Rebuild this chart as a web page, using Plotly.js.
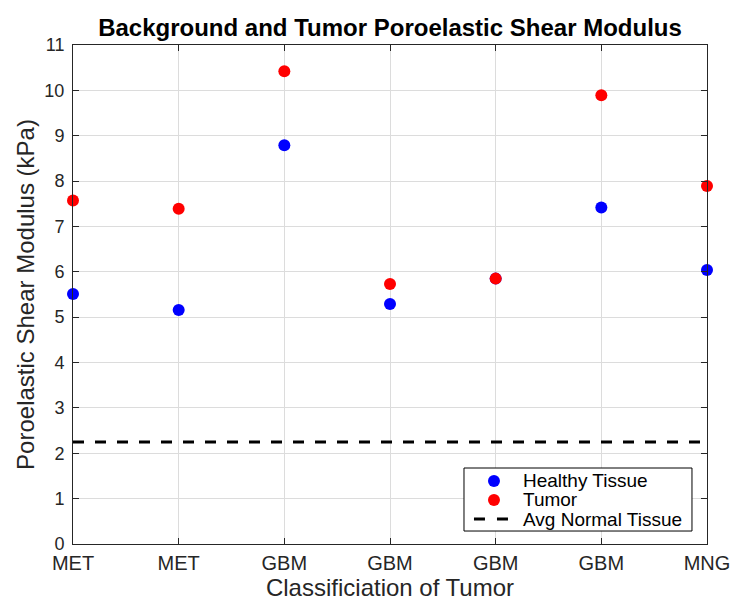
<!DOCTYPE html>
<html>
<head>
<meta charset="utf-8">
<script src="https://cdn.plot.ly/plotly-3.0.1.min.js"></script>
<style>html,body{margin:0;padding:0;background:#fff;}#chart{width:752px;height:614px;}</style>
</head>
<body>
<div id="chart"></div>
<script>
const categories = ["MET", "MET", "GBM", "GBM", "GBM", "GBM", "MNG"];
const positions = [1, 2, 3, 4, 5, 6, 7];
const healthy = [5.51, 5.16, 8.79, 5.29, 5.85, 7.42, 6.04];
const tumor = [7.57, 7.39, 10.42, 5.73, 5.85, 9.89, 7.89];
const avgNormal = 2.25;
const yTicks = [0, 1, 2, 3, 4, 5, 6, 7, 8, 9, 10, 11];
const seriesNames = ["Healthy Tissue", "Tumor", "Avg Normal Tissue"];
const seriesColors = ["#0000ff", "#ff0000", "#000000"];

const font = "Liberation Sans, Arial, Helvetica, sans-serif";
const axisColor = "#262626";

const traces = [
  {
    x: positions, y: healthy, type: "scatter", mode: "markers", name: seriesNames[0],
    marker: {color: seriesColors[0], size: 12}, cliponaxis: false
  },
  {
    x: positions, y: tumor, type: "scatter", mode: "markers", name: seriesNames[1],
    marker: {color: seriesColors[1], size: 12}, cliponaxis: false
  },
  {
    x: [positions[0], positions[positions.length - 1]], y: [avgNormal, avgNormal],
    type: "scatter", mode: "lines", name: seriesNames[2],
    line: {color: seriesColors[2], width: 3, dash: "11px,11px"}
  }
];

// Compact legend box (drawn in paper coordinates, like MATLAB's tight legend)
const legBox = {x0: 0.6167, x1: 0.9763, y0: 0.026, y1: 0.1523};
const legRowsY = [0.1263, 0.0882, 0.0501];
const legSymX = 0.664;
const legTextX = 0.7066;

const shapes = [
  {type: "rect", xref: "paper", yref: "paper", x0: legBox.x0, x1: legBox.x1, y0: legBox.y0, y1: legBox.y1,
   line: {color: "#000000", width: 1}, fillcolor: "#ffffff", layer: "above"},
  {type: "circle", xref: "paper", yref: "paper", xsizemode: "pixel", ysizemode: "pixel",
   xanchor: legSymX, yanchor: legRowsY[0], x0: -6, x1: 6, y0: -6, y1: 6,
   fillcolor: seriesColors[0], line: {width: 0}, layer: "above"},
  {type: "circle", xref: "paper", yref: "paper", xsizemode: "pixel", ysizemode: "pixel",
   xanchor: legSymX, yanchor: legRowsY[1], x0: -6, x1: 6, y0: -6, y1: 6,
   fillcolor: seriesColors[1], line: {width: 0}, layer: "above"},
  {type: "line", xref: "paper", yref: "paper", xsizemode: "pixel",
   xanchor: legSymX, x0: -20, x1: 14, y0: legRowsY[2], y1: legRowsY[2],
   line: {color: seriesColors[2], width: 3, dash: "11px,12px"}, layer: "above"}
];

const annotations = seriesNames.map((name, i) => ({
  text: name, xref: "paper", yref: "paper", x: legTextX, y: legRowsY[i],
  xanchor: "left", yanchor: "middle", showarrow: false,
  font: {family: font, size: 19, color: "#000000"}
}));

const layout = {
  width: 752, height: 614,
  margin: {l: 73, r: 45, t: 45, b: 70},
  paper_bgcolor: "#ffffff", plot_bgcolor: "#ffffff",
  font: {family: font, color: axisColor, size: 19},
  title: {
    text: "<b>Background and Tumor Poroelastic Shear Modulus</b>",
    font: {family: font, size: 24, color: "#000000"},
    x: 0.5, xanchor: "center", xref: "paper", y: 0.955, yanchor: "middle"
  },
  xaxis: {
    range: [1, 7], tickvals: positions, ticktext: categories,
    showgrid: true, gridcolor: "#dcdcdc", gridwidth: 1,
    zeroline: false, showline: true, linecolor: axisColor, linewidth: 1, mirror: "ticks",
    ticks: "inside", ticklen: 6, tickcolor: axisColor,
    ticklabelstandoff: 1,
    tickfont: {family: font, size: 20, color: axisColor},
    title: {text: "Classificiation of Tumor", font: {family: font, size: 24, color: axisColor}, standoff: 0}
  },
  yaxis: {
    range: [0, 11], tickvals: yTicks,
    showgrid: true, gridcolor: "#dcdcdc", gridwidth: 1,
    zeroline: false, showline: true, linecolor: axisColor, linewidth: 1, mirror: "ticks",
    ticks: "inside", ticklen: 6, tickcolor: axisColor,
    ticklabelstandoff: 4,
    tickfont: {family: font, size: 18, color: axisColor},
    title: {text: "Poroelastic Shear Modulus (kPa)", font: {family: font, size: 24, color: axisColor}, standoff: 2}
  },
  showlegend: false,
  shapes: shapes,
  annotations: annotations
};

Plotly.newPlot("chart", traces, layout, {displayModeBar: false, staticPlot: true});
</script>
</body>
</html>
